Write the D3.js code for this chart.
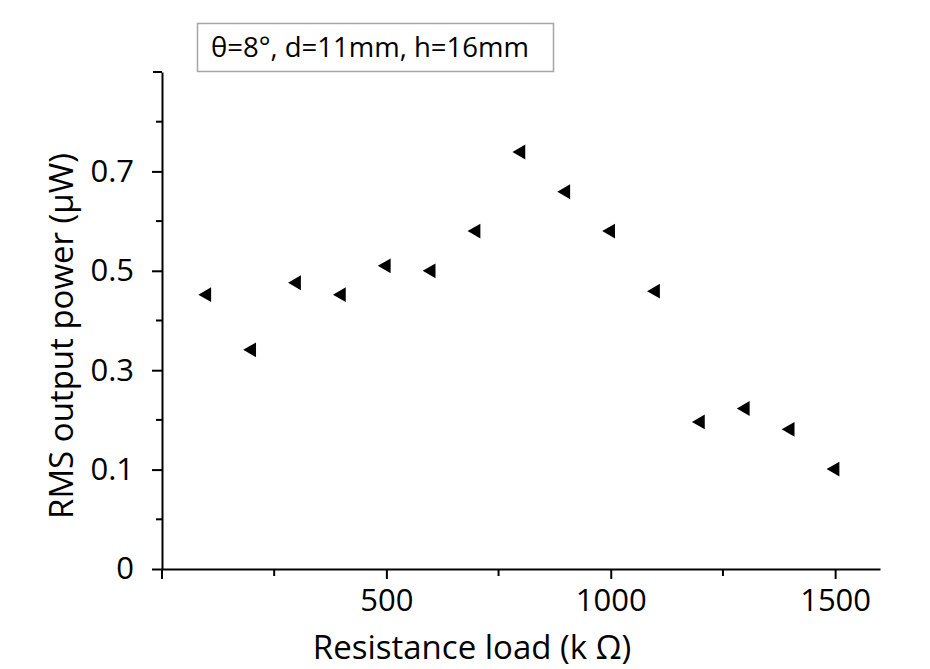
<!DOCTYPE html>
<html>
<head>
<meta charset="utf-8">
<script src="https://cdn.jsdelivr.net/npm/d3@7"></script>
<style>
  body { margin: 0; background: #fff; }
  text { font-family: "Open Sans", "Noto Sans", sans-serif; fill: #000; }
</style>
</head>
<body>
<svg id="chart" width="930" height="669"></svg>
<script>
// data
let loads = [100, 200, 300, 400, 500, 600, 700, 800, 900, 1000, 1100, 1200, 1300, 1400, 1500];
let power = [0.452, 0.341, 0.476, 0.452, 0.51, 0.5, 0.58, 0.739, 0.659, 0.58, 0.459, 0.196, 0.223, 0.181, 0.101];

let xTicks = [500, 1000, 1500];
let xMinorTicks = [0, 250, 750, 1250];
// the bottom of the y axis carries the label "0" in the source figure
let yTicks = [-0.1, 0.1, 0.3, 0.5, 0.7];
let yTickLabels = ["0", "0.1", "0.3", "0.5", "0.7"];
let yMinorTicks = [0, 0.2, 0.4, 0.6, 0.8, 0.9];
let legendText = "θ=8°, d=11mm, h=16mm";

const margin = {left: 162, top: 72, right: 50, bottom: 100};
const width = 930, height = 669;

let svg = d3.select("#chart");

let x = d3.scaleLinear().domain([0, 1600]).range([margin.left, width - margin.right]);
let y = d3.scaleLinear().domain([-0.1, 0.9]).range([height - margin.bottom, margin.top]);

// x axis
let xAxis = svg.append("g").attr("transform", `translate(0,${y(-0.1)})`);
xAxis.call(d3.axisBottom(x).tickValues(xTicks).tickFormat(d3.format("d"))
    .tickSize(10).tickPadding(10).tickSizeOuter(0));
xAxis.append("g").selectAll("line").data(xMinorTicks).join("line")
    .attr("x1", d => x(d)).attr("x2", d => x(d))
    .attr("y1", 0).attr("y2", d => d === 0 ? 10 : 7);

// y axis
let yAxis = svg.append("g").attr("transform", `translate(${x(0)},0)`);
yAxis.call(d3.axisLeft(y).tickValues(yTicks).tickSize(10).tickPadding(18).tickSizeOuter(0)
    .tickFormat((d, i) => yTickLabels[i]));
yAxis.append("g").selectAll("line").data(yMinorTicks).join("line")
    .attr("x1", 0).attr("x2", d => d === 0.9 ? -9 : -6)
    .attr("y1", d => y(d)).attr("y2", d => y(d));

svg.selectAll(".domain, .tick line").attr("stroke", "#000").attr("stroke-width", 2);
[xAxis, yAxis].forEach(a => a.selectAll("g line").attr("stroke", "#000").attr("stroke-width", 2));
svg.selectAll(".tick text").style("font-size", "31px").attr("fill", "#000");

// axis titles
svg.append("text")
    .attr("x", 472).attr("y", 659)
    .attr("text-anchor", "middle")
    .style("font-size", "33px")
    .text("Resistance load (k Ω)");

svg.append("text")
    .attr("transform", "translate(73,336) rotate(-90)")
    .attr("text-anchor", "middle")
    .style("font-size", "33px")
    .text("RMS output power (μW)");

// points
svg.append("g").selectAll("path")
    .data(loads.map((d, i) => ({load: d, p: power[i]})))
    .join("path")
    .attr("transform", d => `translate(${x(d.load)},${y(d.p)}) rotate(-90)`)
    .attr("d", d3.symbol(d3.symbolTriangle, 95))
    .attr("fill", "#000");

// legend box
let legend = svg.append("g");
legend.append("rect")
    .attr("x", 197.5).attr("y", 23.5).attr("width", 356).attr("height", 48)
    .attr("fill", "#fff").attr("stroke", "#a6a6a6").attr("stroke-width", 1.5);
legend.append("text")
    .attr("x", 211).attr("y", 57)
    .style("font-size", "27.5px")
    .text(legendText);
</script>
</body>
</html>
